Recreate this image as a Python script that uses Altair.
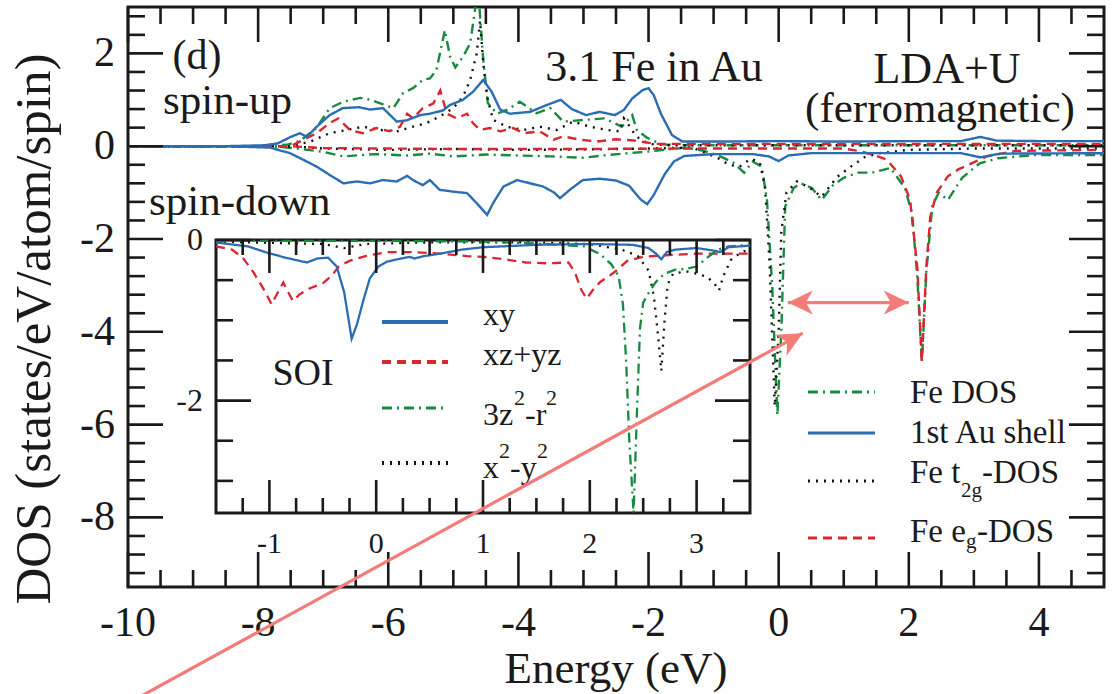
import math
import altair as alt
import pandas as pd

# ---------------- data ----------------
FE_UP = [(-10.0, 0.0), (-8.0, 0.0), (-7.56, 0.03), (-7.35, 0.12), (-7.1, 0.4), (-6.9, 0.82), (-6.69, 0.96),
         (-6.43, 1.04), (-6.28, 1.0), (-6.08, 0.9), (-5.92, 0.82), (-5.77, 1.15), (-5.62, 1.25), (-5.47, 1.43),
         (-5.36, 1.46), (-5.26, 1.64), (-5.13, 2.5), (-5.05, 1.93), (-4.97, 1.7), (-4.85, 1.93), (-4.74, 2.22),
         (-4.62, 3.4), (-4.54, 1.86), (-4.47, 0.93), (-4.33, 0.7), (-4.15, 0.8), (-3.98, 0.96), (-3.72, 0.71),
         (-3.51, 0.82), (-3.31, 0.53), (-2.95, 0.57), (-2.68, 0.6), (-2.41, 0.42), (-2.25, 0.67), (-2.18, 0.35),
         (-2.02, 0.18), (-1.8, 0.04), (-1.5, 0.02), (5.0, 0.02)]
FE_DN = [(-10.0, 0.0), (-7.8, 0.0), (-7.4, -0.05), (-7.0, -0.12), (-6.69, -0.22), (-6.2, -0.17), (-5.7, -0.2),
         (-5.36, -0.16), (-5.0, -0.22), (-4.5, -0.18), (-4.0, -0.2), (-3.5, -0.22), (-3.0, -0.25), (-2.7, -0.2),
         (-2.3, -0.15), (-1.9, -0.1), (-1.42, -0.03), (-1.15, -0.1), (-0.93, -0.2), (-0.7, -0.35), (-0.53, -0.57),
         (-0.4, -0.33), (-0.26, -0.44), (-0.18, -1.16), (-0.1, -3.0), (-0.02, -5.8), (0.04, -4.0), (0.1, -1.3),
         (0.23, -0.9), (0.34, -0.8), (0.51, -0.9), (0.66, -1.16), (0.83, -0.85), (1.0, -0.68), (1.22, -0.57),
         (1.44, -0.57), (1.72, -0.47), (1.94, -0.9), (2.05, -1.45), (2.13, -2.8), (2.2, -4.65), (2.27, -2.7),
         (2.36, -1.3), (2.46, -1.0), (2.6, -1.16), (2.82, -0.68), (3.09, -0.37), (3.37, -0.26), (3.92, -0.19),
         (5.0, -0.19)]
AU_UP = [(-10.0, 0.0), (-8.5, 0.0), (-7.9, 0.02), (-7.7, 0.06), (-7.5, 0.2), (-7.36, 0.28), (-7.25, 0.2),
         (-7.1, 0.42), (-6.9, 0.67), (-6.7, 0.82), (-6.45, 0.84), (-6.28, 0.79), (-6.08, 0.82), (-5.87, 0.53),
         (-5.71, 0.56), (-5.51, 0.67), (-5.36, 0.7), (-5.16, 0.77), (-5.05, 0.89), (-4.85, 1.0), (-4.7, 1.17),
         (-4.54, 1.43), (-4.41, 1.17), (-4.28, 0.79), (-4.13, 0.7), (-3.82, 0.74), (-3.56, 0.89), (-3.35, 1.0),
         (-3.18, 0.8), (-2.96, 0.67), (-2.75, 0.74), (-2.52, 0.67), (-2.38, 0.78), (-2.25, 1.03), (-2.09, 1.21),
         (-2.0, 1.25), (-1.92, 1.1), (-1.81, 0.7), (-1.64, 0.24), (-1.48, 0.1), (-1.0, 0.1), (0.0, 0.11),
         (1.0, 0.1), (2.0, 0.11), (2.8, 0.11), (3.1, 0.2), (3.35, 0.12), (4.0, 0.11), (5.0, 0.11)]
AU_DN = [(-10.0, 0.0), (-8.5, 0.0), (-7.82, -0.03), (-7.51, -0.15), (-7.31, -0.29), (-7.1, -0.44), (-6.9, -0.62),
         (-6.69, -0.8), (-6.48, -0.76), (-6.28, -0.8), (-6.08, -0.73), (-5.87, -0.76), (-5.71, -0.64),
         (-5.62, -0.73), (-5.47, -0.84), (-5.36, -0.73), (-5.21, -0.94), (-5.0, -0.98), (-4.79, -1.01),
         (-4.64, -1.23), (-4.48, -1.48), (-4.39, -1.23), (-4.23, -0.87), (-4.02, -0.73), (-3.82, -0.8),
         (-3.62, -0.87), (-3.45, -1.0), (-3.36, -1.12), (-3.21, -0.94), (-3.01, -0.73), (-2.75, -0.7),
         (-2.5, -0.74), (-2.3, -0.85), (-2.12, -1.15), (-2.02, -1.25), (-1.92, -1.05), (-1.75, -0.6),
         (-1.61, -0.33), (-1.45, -0.21), (-1.0, -0.17), (-0.4, -0.17), (-0.15, -0.22), (0.0, -0.32),
         (0.15, -0.2), (0.5, -0.15), (2.0, -0.15), (2.8, -0.15), (3.1, -0.24), (3.4, -0.16), (5.0, -0.15)]
T2G_UP = [(-10.0, 0.0), (-7.5, 0.0), (-7.2, 0.1), (-6.9, 0.28), (-6.64, 0.35), (-6.39, 0.42), (-6.13, 0.35),
          (-5.87, 0.32), (-5.62, 0.42), (-5.41, 0.5), (-5.21, 0.64), (-5.0, 0.82), (-4.85, 1.07), (-4.74, 1.43),
          (-4.64, 2.0), (-4.59, 2.7), (-4.54, 1.79), (-4.48, 1.07), (-4.39, 0.57), (-4.18, 0.42), (-3.92, 0.35),
          (-3.67, 0.42), (-3.41, 0.35), (-3.16, 0.53), (-2.9, 0.42), (-2.64, 0.35), (-2.45, 0.32), (-2.38, 0.6),
          (-2.3, 0.45), (-2.19, 0.21), (-2.0, 0.05), (-1.7, 0.02), (5.0, 0.02)]
T2G_DN = [(-10.0, 0.0), (-7.5, 0.0), (-7.0, -0.05), (-6.0, -0.08), (-5.0, -0.06), (-4.0, -0.08), (-3.0, -0.07),
          (-2.0, -0.05), (-1.32, -0.03), (-0.93, -0.26), (-0.76, -0.4), (-0.6, -0.44), (-0.43, -0.27),
          (-0.29, -0.35), (-0.21, -0.87), (-0.14, -2.5), (-0.06, -5.6), (0.0, -4.0), (0.04, -1.85), (0.12, -1.0),
          (0.28, -0.76), (0.45, -0.87), (0.66, -1.09), (0.9, -0.66), (1.11, -0.44), (1.33, -0.23), (1.56, -0.15),
          (1.99, -0.08), (3.0, -0.05), (5.0, -0.05)]
EG_UP = [(-10.0, 0.0), (-7.5, 0.0), (-7.1, 0.28), (-6.9, 0.5), (-6.77, 0.6), (-6.59, 0.35), (-6.39, 0.28),
         (-6.18, 0.39), (-5.98, 0.32), (-5.82, 0.42), (-5.71, 0.7), (-5.62, 0.6), (-5.47, 0.82), (-5.31, 0.92),
         (-5.2, 1.2), (-5.1, 0.7), (-4.95, 0.6), (-4.79, 0.7), (-4.7, 0.5), (-4.59, 0.35), (-4.44, 0.39),
         (-4.28, 0.32), (-4.08, 0.39), (-3.92, 0.28), (-3.67, 0.32), (-3.46, 0.14), (-3.31, 0.21), (-3.05, 0.14),
         (-2.79, 0.1), (-2.5, 0.15), (-2.2, 0.12), (-1.9, 0.05), (-1.5, 0.05), (5.0, 0.05)]
EG_DN = [(-10.0, 0.0), (-7.5, 0.0), (-7.0, -0.04), (-5.0, -0.06), (-3.0, -0.06), (-1.5, -0.05), (1.0, -0.05),
         (1.22, -0.1), (1.44, -0.18), (1.66, -0.29), (1.88, -0.65), (2.02, -1.16), (2.13, -2.6), (2.2, -4.65),
         (2.27, -2.6), (2.33, -1.52), (2.43, -1.0), (2.6, -0.65), (2.76, -0.5), (2.98, -0.36), (3.2, -0.22),
         (3.64, -0.1), (5.0, -0.08)]

SOI_XY = [(-1.5, -0.03), (-1.2, -0.08), (-1.04, -0.15), (-0.85, -0.22), (-0.65, -0.28), (-0.55, -0.23),
          (-0.45, -0.22), (-0.37, -0.33), (-0.3, -0.65), (-0.26, -0.98), (-0.23, -1.23), (-0.18, -1.05),
          (-0.12, -0.75), (-0.06, -0.48), (0.02, -0.33), (0.1, -0.27), (0.2, -0.24), (0.31, -0.21), (0.36, -0.23),
          (0.45, -0.2), (0.6, -0.17), (0.8, -0.12), (1.0, -0.09), (1.5, -0.06), (2.0, -0.05), (2.4, -0.06),
          (2.55, -0.1), (2.62, -0.17), (2.67, -0.24), (2.72, -0.15), (2.8, -0.12), (3.0, -0.1), (3.15, -0.13),
          (3.22, -0.15), (3.3, -0.09), (3.5, -0.07)]
SOI_XZYZ = [(-1.5, -0.08), (-1.35, -0.12), (-1.25, -0.22), (-1.15, -0.4), (-1.05, -0.62), (-0.98, -0.8),
            (-0.92, -0.65), (-0.87, -0.53), (-0.82, -0.66), (-0.78, -0.76), (-0.72, -0.68), (-0.62, -0.6),
            (-0.5, -0.54), (-0.42, -0.45), (-0.35, -0.33), (-0.25, -0.26), (-0.1, -0.2), (0.1, -0.15),
            (0.35, -0.15), (0.6, -0.17), (0.85, -0.2), (1.0, -0.21), (1.2, -0.24), (1.4, -0.28), (1.6, -0.29),
            (1.8, -0.28), (1.86, -0.4), (1.92, -0.62), (1.97, -0.73), (2.03, -0.62), (2.1, -0.52), (2.18, -0.45),
            (2.25, -0.38), (2.35, -0.26), (2.5, -0.21), (2.7, -0.19), (3.0, -0.17), (3.5, -0.17)]
SOI_3Z2 = [(-1.5, -0.01), (0.0, -0.01), (1.0, -0.02), (1.6, -0.05), (1.95, -0.08), (2.1, -0.18), (2.2, -0.3),
           (2.27, -0.45), (2.31, -0.8), (2.34, -1.5), (2.37, -2.5), (2.41, -3.4), (2.44, -2.2), (2.47, -1.1),
           (2.5, -0.78), (2.55, -0.66), (2.62, -0.52), (2.7, -0.42), (2.8, -0.37), (2.9, -0.36), (3.0, -0.33),
           (3.1, -0.22), (3.2, -0.12), (3.3, -0.08), (3.5, -0.06)]
SOI_X2Y2 = [(-1.5, -0.02), (-0.5, -0.05), (-0.3, -0.1), (-0.1, -0.05), (0.5, -0.03), (1.5, -0.03), (2.0, -0.05),
            (2.3, -0.12), (2.45, -0.2), (2.55, -0.38), (2.6, -0.7), (2.64, -1.2), (2.67, -1.63), (2.7, -1.0),
            (2.73, -0.55), (2.78, -0.42), (2.9, -0.39), (3.0, -0.42), (3.1, -0.46), (3.17, -0.55), (3.21, -0.63),
            (3.25, -0.45), (3.32, -0.25), (3.42, -0.15), (3.5, -0.12)]

MAIN_SERIES = ["Fe DOS", "1st Au shell", "Fe t2g-DOS", "Fe eg-DOS"]
SOI_SERIES = ["xy", "xz+yz", "3z2-r2", "x2-y2"]

X_DOMAIN = [-10, 5]
Y_DOMAIN = [-9.5, 3]
X_MAJOR = [-10, -8, -6, -4, -2, 0, 2, 4]
X_MINOR = [-9.5, -9, -8.5, -7.5, -7, -6.5, -5.5, -5, -4.5, -3.5, -3, -2.5, -1.5, -1, -0.5,
           0.5, 1, 1.5, 2.5, 3, 3.5, 4.5]
Y_MAJOR = [-8, -6, -4, -2, 0, 2]
Y_MINOR = [-9.2, -8.8, -8.4, -7.6, -7.2, -6.8, -6.4, -5.6, -5.2, -4.8, -4.4, -3.6, -3.2, -2.8, -2.4,
           -1.6, -1.2, -0.8, -0.4, 0.4, 0.8, 1.2, 1.6, 2.4, 2.8]

INSET_X = [-1.5, 3.5]
INSET_Y = [-3.4, 0]
IX_MAJOR = [-1, 0, 1, 2, 3]
IX_MINOR = [-1.25, -0.75, -0.5, -0.25, 0.25, 0.5, 0.75, 1.25, 1.5, 1.75, 2.25, 2.5, 2.75, 3.25]
IY_MAJOR = [0, -2]
IY_MINOR = [-0.5, -1, -1.5, -2.5, -3]

ARROW_GAP = [(0.14, -3.37), (2.0, -3.37)]
ARROW_POINTER = [(-10.12, -12.10), (0.37, -4.03)]

# ---------------- styling / layout ----------------
FONT = "Liberation Serif"
INK = "#1a1a1a"
BLUE, RED, GREEN, BLACK = "#2a6db3", "#d92630", "#178a40", "#111111"
SALMON = "#f47c78"
SOLID, DASHED, DOTDASH, DOTTED = [1, 0], [9, 6], [10, 5, 2, 5], [2, 6]

W, H = 976, 580
PAD = {"left": 128, "top": 7, "right": 8, "bottom": 107}
MAJ, MIN = 35, 17
IMAJ, IMIN = 33, 15
IB_L, IB_R, IB_T, IB_B = 88, 622, 233, 506

ix_unit = (IB_R - IB_L) / (INSET_X[1] - INSET_X[0])
iy_unit = (IB_B - IB_T) / (INSET_Y[1] - INSET_Y[0])
XI_DOM = [INSET_X[0] - IB_L / ix_unit, INSET_X[1] + (W - IB_R) / ix_unit]
YI_DOM = [INSET_Y[0] - (H - IB_B) / iy_unit, INSET_Y[1] + IB_T / iy_unit]


def mscale_x():
    return alt.Scale(domain=X_DOMAIN, nice=False, zero=False)


def mscale_y():
    return alt.Scale(domain=Y_DOMAIN, nice=False, zero=False)


def iscale_x():
    return alt.Scale(domain=XI_DOM, nice=False, zero=False)


def iscale_y():
    return alt.Scale(domain=YI_DOM, nice=False, zero=False)


def frame(points, series, branch):
    return pd.DataFrame({"e": [p[0] for p in points], "d": [p[1] for p in points],
                         "series": series, "branch": branch, "k": list(range(len(points)))})


ONE = pd.DataFrame({"k": [0]})


def text(t, x, y, size, align="left", baseline="alphabetic", angle=0):
    return alt.Chart(ONE).mark_text(text=t, font=FONT, fontSize=size, align=align, baseline=baseline,
                                    angle=angle, color=INK).encode(x=alt.value(x), y=alt.value(y))


def sample(x0, x1, y, color, dash, width):
    return alt.Chart(ONE).mark_rule(color=color, strokeDash=dash, strokeWidth=width).encode(
        x=alt.value(x0), x2=alt.value(x1), y=alt.value(y))


def xticks(values, length, scale_fn, top, bottom, width=2.6):
    df = pd.DataFrame({"v": values})
    base = alt.Chart(df).mark_rule(color=INK, strokeWidth=width)
    return [base.encode(x=alt.X("v:Q", scale=scale_fn(), axis=None), y=alt.value(bottom), y2=alt.value(bottom - length)),
            base.encode(x=alt.X("v:Q", scale=scale_fn(), axis=None), y=alt.value(top), y2=alt.value(top + length))]


def yticks(values, length, scale_fn, left, right, width=2.6):
    df = pd.DataFrame({"v": values})
    base = alt.Chart(df).mark_rule(color=INK, strokeWidth=width)
    return [base.encode(y=alt.Y("v:Q", scale=scale_fn(), axis=None), x=alt.value(left), x2=alt.value(left + length)),
            base.encode(y=alt.Y("v:Q", scale=scale_fn(), axis=None), x=alt.value(right), x2=alt.value(right - length))]


# ---------------- main panel ----------------
main_df = pd.concat([
    frame(FE_UP, "Fe DOS", "up"), frame(FE_DN, "Fe DOS", "dn"),
    frame(T2G_UP, "Fe t2g-DOS", "up"), frame(T2G_DN, "Fe t2g-DOS", "dn"),
    frame(EG_UP, "Fe eg-DOS", "up"), frame(EG_DN, "Fe eg-DOS", "dn"),
    frame(AU_UP, "1st Au shell", "up"), frame(AU_DN, "1st Au shell", "dn"),
], ignore_index=True)

main_lines = alt.Chart(main_df).mark_line(strokeWidth=2.4, clip=True).encode(
    x=alt.X("e:Q", scale=mscale_x(), axis=None),
    y=alt.Y("d:Q", scale=mscale_y(), axis=None),
    color=alt.Color("series:N", scale=alt.Scale(domain=MAIN_SERIES, range=[GREEN, BLUE, BLACK, RED]), legend=None),
    strokeDash=alt.StrokeDash("series:N", scale=alt.Scale(domain=MAIN_SERIES,
                                                          range=[DOTDASH, SOLID, DOTTED, DASHED]), legend=None),
    detail="branch:N",
    order="k:Q",
)

mxl = pd.DataFrame({"v": X_MAJOR, "t": [str(v) for v in X_MAJOR]})
myl = pd.DataFrame({"v": Y_MAJOR, "t": [str(v) for v in Y_MAJOR]})
main_xlabels = alt.Chart(mxl).mark_text(font=FONT, fontSize=42, color=INK, align="center",
                                        baseline="alphabetic").encode(
    x=alt.X("v:Q", scale=mscale_x(), axis=None), y=alt.value(H + 49), text="t:N")
main_ylabels = alt.Chart(myl).mark_text(font=FONT, fontSize=42, color=INK, align="right",
                                        baseline="middle").encode(
    y=alt.Y("v:Q", scale=mscale_y(), axis=None), x=alt.value(-13), text="t:N")

main_ticks = (xticks(X_MAJOR, MAJ, mscale_x, 0, H) + xticks(X_MINOR, MIN, mscale_x, 0, H) +
              yticks(Y_MAJOR, MAJ, mscale_y, 0, W) + yticks(Y_MINOR, MIN, mscale_y, 0, W))

main_text = [
    text("Energy (eV)", W / 2, H + 96, 45, align="center"),
    text("DOS (states/eV/atom/spin)", -78, 322, 51, align="center", angle=270),
    text("(d)", 69, 62, 42, align="center"),
    text("spin-up", 35, 107, 43),
    text("spin-down", 21, 208, 43),
    text("3.1 Fe in Au", 526, 74, 44, align="center"),
    text("LDA+U", 819, 76, 44, align="center"),
    text("(ferromagnetic)", 812, 115, 43, align="center"),
]

main_legend = [
    sample(680, 747, 385, GREEN, DOTDASH, 3.2),
    sample(680, 747, 426, BLUE, SOLID, 3.2),
    sample(680, 747, 474, BLACK, DOTTED, 3.2),
    sample(680, 747, 531, RED, DASHED, 3.2),
    text("Fe DOS", 782, 396, 33),
    text("1st Au shell", 782, 436, 33),
    text("Fe t", 782, 476, 33), text("2g", 833, 490, 21), text("-DOS", 854, 476, 33),
    text("Fe e", 782, 535, 33), text("g", 838, 541, 21), text("-DOS", 849, 535, 33),
]

# ---------------- inset panel ----------------
box_df = pd.DataFrame({"x0": [INSET_X[0]], "x1": [INSET_X[1]], "y0": [INSET_Y[0]], "y1": [INSET_Y[1]]})
inset_bg = alt.Chart(box_df).mark_rect(fill="white", stroke=INK, strokeWidth=3).encode(
    x=alt.X("x0:Q", scale=iscale_x(), axis=None), x2="x1:Q",
    y=alt.Y("y0:Q", scale=iscale_y(), axis=None), y2="y1:Q")

soi_df = pd.concat([
    frame(SOI_XZYZ, "xz+yz", "dn"), frame(SOI_X2Y2, "x2-y2", "dn"),
    frame(SOI_3Z2, "3z2-r2", "dn"), frame(SOI_XY, "xy", "dn"),
], ignore_index=True)
inset_lines = alt.Chart(soi_df).mark_line(strokeWidth=2.3).encode(
    x=alt.X("e:Q", scale=iscale_x(), axis=None),
    y=alt.Y("d:Q", scale=iscale_y(), axis=None),
    color=alt.Color("series:N", scale=alt.Scale(domain=SOI_SERIES, range=[BLUE, RED, GREEN, BLACK]), legend=None),
    strokeDash=alt.StrokeDash("series:N", scale=alt.Scale(domain=SOI_SERIES,
                                                          range=[SOLID, DASHED, DOTDASH, DOTTED]), legend=None),
    detail="series:N",
    order="k:Q",
)

inset_ticks = (xticks(IX_MAJOR, IMAJ, iscale_x, IB_T, IB_B) + xticks(IX_MINOR, IMIN, iscale_x, IB_T, IB_B) +
               yticks(IY_MAJOR, IMAJ + 2, iscale_y, IB_L, IB_R) + yticks(IY_MINOR, IMIN + 2, iscale_y, IB_L, IB_R))

ixl = pd.DataFrame({"v": IX_MAJOR, "t": [str(v) for v in IX_MAJOR]})
iyl = pd.DataFrame({"v": IY_MAJOR, "t": [str(v) for v in IY_MAJOR]})
inset_xlabels = alt.Chart(ixl).mark_text(font=FONT, fontSize=30, color=INK, align="center",
                                         baseline="alphabetic").encode(
    x=alt.X("v:Q", scale=iscale_x(), axis=None), y=alt.value(IB_B + 40), text="t:N")
inset_ylabels = alt.Chart(iyl).mark_text(font=FONT, fontSize=32, color=INK, align="right",
                                         baseline="middle").encode(
    y=alt.Y("v:Q", scale=iscale_y(), axis=None), x=alt.value(IB_L - 13), text="t:N")

inset_text = [
    text("SOI", 175, 378, 38, align="center"),
    sample(254, 320, 315, BLUE, SOLID, 4),
    sample(254, 320, 355, RED, DASHED, 4),
    sample(254, 320, 401, GREEN, DOTDASH, 3.2),
    sample(254, 320, 456, BLACK, DOTTED, 4),
    text("xy", 355, 318, 32),
    text("xz+yz", 355, 358, 32),
    text("3z", 355, 418, 32), text("2", 386, 398, 22), text("-r", 397, 418, 32), text("2", 418, 398, 22),
    text("x", 355, 471, 32), text("2", 371, 451, 22), text("-y", 382, 471, 32), text("2", 409, 451, 22),
]

# ---------------- salmon arrows ----------------
px_x = W / (X_DOMAIN[1] - X_DOMAIN[0])
px_y = H / (Y_DOMAIN[1] - Y_DOMAIN[0])


def heading(p_from, p_to):
    dx = (p_to[0] - p_from[0]) * px_x
    dy = (p_to[1] - p_from[1]) * px_y
    return (90 - math.degrees(math.atan2(dy, dx))) % 360


arrow_df = pd.DataFrame({
    "x": [p[0] for p in ARROW_GAP + ARROW_POINTER],
    "y": [p[1] for p in ARROW_GAP + ARROW_POINTER],
    "id": ["gap", "gap", "pointer", "pointer"],
    "o": [0, 1, 0, 1],
})
head_df = pd.DataFrame({
    "x": [ARROW_GAP[0][0], ARROW_GAP[1][0], ARROW_POINTER[1][0]],
    "y": [ARROW_GAP[0][1], ARROW_GAP[1][1], ARROW_POINTER[1][1]],
    "ang": [heading(ARROW_GAP[1], ARROW_GAP[0]), heading(ARROW_GAP[0], ARROW_GAP[1]),
            heading(ARROW_POINTER[0], ARROW_POINTER[1])],
})
arrow_lines = alt.Chart(arrow_df).mark_line(color=SALMON, strokeWidth=3.2, clip=False).encode(
    x=alt.X("x:Q", scale=mscale_x(), axis=None), y=alt.Y("y:Q", scale=mscale_y(), axis=None),
    detail="id:N", order="o:Q")
HEAD = "M0,0L0.48,1L0,0.72L-0.48,1Z"
arrow_heads = alt.Chart(head_df).mark_point(shape=HEAD, filled=True, color=SALMON, size=2500, opacity=1,
                                            strokeWidth=0, clip=False).encode(
    x=alt.X("x:Q", scale=mscale_x(), axis=None), y=alt.Y("y:Q", scale=mscale_y(), axis=None),
    angle=alt.Angle("ang:Q", scale=None))

layers = ([main_lines] + main_ticks + [main_xlabels, main_ylabels] + main_text + main_legend +
          [inset_bg, inset_lines] + inset_ticks + [inset_xlabels, inset_ylabels] + inset_text +
          [arrow_lines, arrow_heads])

chart = alt.layer(*layers).resolve_scale(
    x="independent", y="independent", color="independent", strokeDash="independent"
).properties(
    width=W, height=H, padding=PAD, autosize=alt.AutoSizeParams(type="none"), background="white"
).configure_view(stroke=INK, strokeWidth=3)

chart.save("out.html", embed_options={"renderer": "svg", "actions": False})
